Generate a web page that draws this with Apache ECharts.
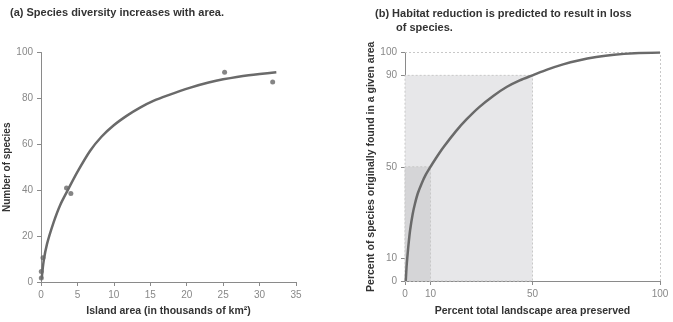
<!DOCTYPE html>
<html><head><meta charset="utf-8">
<script src="https://cdn.jsdelivr.net/npm/echarts@6/dist/echarts.min.js"></script>
<style>html,body{margin:0;padding:0;background:#fff}#c{width:673px;height:322px}</style>
</head><body><div id="c"></div>
<script>
// Panel (a): island area (thousands km2) vs number of species
const islandArea = [0.04, 0.04, 0.27, 3.5, 4.1, 25.2, 31.8];
const speciesCount = [1.7, 4.6, 10.6, 41, 38.6, 91.4, 87.1];
const fitArea = [0.1, 0.36, 0.82, 1.73, 2.64, 3.8, 5, 6.75, 8.3, 9.95, 11.8, 13.6, 15.5, 17.3, 20.4, 23, 25, 28.5, 32.3];
const fitSpecies = [1.5, 9, 16.5, 26, 33.6, 40.8, 48, 57.2, 63.3, 68.2, 72.5, 76, 79, 81.2, 84.6, 86.9, 88.3, 90.1, 91.4];
const aXTicks = [0, 5, 10, 15, 20, 25, 30, 35];
const aYTicks = [0, 20, 40, 60, 80, 100];

// Panel (b): percent landscape preserved vs percent species
const preserved = [0.3, 0.6, 0.9, 1.4, 2, 3, 3.9, 5, 6.5, 8, 10, 12, 15, 20, 24.2, 29, 34.6, 40, 45, 50, 56, 62, 68, 75, 82, 90, 100];
const speciesPct = [0, 6, 10.2, 16.2, 22.2, 29.2, 33.8, 38.3, 42.6, 46.2, 50, 53.5, 58.4, 65.6, 70.8, 76, 81, 85, 87.8, 90, 92.6, 94.8, 96.5, 98, 99.05, 99.7, 100];
const bXTicks = [0, 10, 50, 100];
const bYTicks = [0, 10, 50, 90, 100];
const dark = [10, 50];   // preserved %, species %
const light = [50, 90];

const FONT = 'Liberation Sans';
const axisCommon = {
  axisLine: {lineStyle: {color: '#8a8a8a', width: 1}},
  axisTick: {lineStyle: {color: '#8a8a8a'}, length: 4},
  axisLabel: {color: '#888', fontSize: 10, fontFamily: FONT},
  splitLine: {show: false},
  nameLocation: 'middle',
  nameTextStyle: {color: '#333', fontSize: 10.5, fontWeight: 'bold', fontFamily: FONT}
};
const chart = echarts.init(document.getElementById('c'));
chart.setOption({
  animation: false,
  title: [
    {text: '(a) Species diversity increases with area.', left: 5, top: 2, textStyle: {fontSize: 11, fontWeight: 'bold', color: '#333', fontFamily: FONT}},
    {text: '(b) Habitat reduction is predicted to result in loss', left: 370, top: 3, textStyle: {fontSize: 11, fontWeight: 'bold', color: '#333', fontFamily: FONT}},
    {text: 'of species.', left: 391, top: 17, textStyle: {fontSize: 11, fontWeight: 'bold', color: '#333', fontFamily: FONT}}
  ],
  grid: [
    {left: 41, right: 377, top: 52.5, bottom: 36.3, containLabel: false},
    {left: 405, right: 13, top: 52.5, bottom: 36.4, containLabel: false}
  ],
  xAxis: [
    Object.assign({}, axisCommon, {gridIndex: 0, type: 'value', min: aXTicks[0], max: aXTicks[aXTicks.length - 1], interval: 5,
      name: 'Island area (in thousands of km²)', nameGap: 24}),
    Object.assign({}, axisCommon, {gridIndex: 1, type: 'value', min: 0, max: 100,
      axisTick: {lineStyle: {color: '#8a8a8a'}, length: 4, customValues: bXTicks},
      axisLabel: {color: '#888', fontSize: 10, fontFamily: FONT, customValues: bXTicks},
      name: 'Percent total landscape area preserved', nameGap: 25})
  ],
  yAxis: [
    Object.assign({}, axisCommon, {gridIndex: 0, type: 'value', min: aYTicks[0], max: aYTicks[aYTicks.length - 1], interval: 20,
      name: 'Number of species', nameGap: 25,
      nameTextStyle: {color: '#333', fontSize: 10, fontWeight: 'bold', fontFamily: FONT}}),
    Object.assign({}, axisCommon, {gridIndex: 1, type: 'value', min: 0, max: 100,
      axisTick: {lineStyle: {color: '#8a8a8a'}, length: 4, customValues: bYTicks},
      axisLabel: {color: '#888', fontSize: 10, fontFamily: FONT, customValues: bYTicks},
      name: 'Percent of species originally found in a given area', nameGap: 28})
  ],
  series: [
    {type: 'line', xAxisIndex: 0, yAxisIndex: 0, smooth: 0.3, symbol: 'none',
      lineStyle: {color: '#6a6a6a', width: 2.5},
      data: fitArea.map((x, i) => [x, fitSpecies[i]])},
    {type: 'scatter', xAxisIndex: 0, yAxisIndex: 0, symbolSize: 5,
      itemStyle: {color: '#666'},
      data: islandArea.map((x, i) => [x, speciesCount[i]])},
    {type: 'line', xAxisIndex: 1, yAxisIndex: 1, smooth: 0.3, symbol: 'none', z: 5,
      lineStyle: {color: '#6a6a6a', width: 2.5},
      data: preserved.map((x, i) => [x, speciesPct[i]]),
      markArea: {silent: true, data: [
        [{coord: [0, 0], itemStyle: {color: '#e7e7e9', borderColor: '#c8c8c8', borderWidth: 1, borderType: [2, 2]}}, {coord: light}],
        [{coord: [0, 0], itemStyle: {color: '#d5d5d7', borderColor: '#c8c8c8', borderWidth: 1, borderType: [2, 2]}}, {coord: dark}]
      ]},
      markLine: {silent: true, symbol: 'none', label: {show: false},
        lineStyle: {color: '#c8c8c8', width: 1, type: [2, 2]},
        data: [
          [{coord: [0, 100]}, {coord: [100, 100]}],
          [{coord: [100, 0]}, {coord: [100, 100]}]
        ]}
    }
  ]
});
</script></body></html>
